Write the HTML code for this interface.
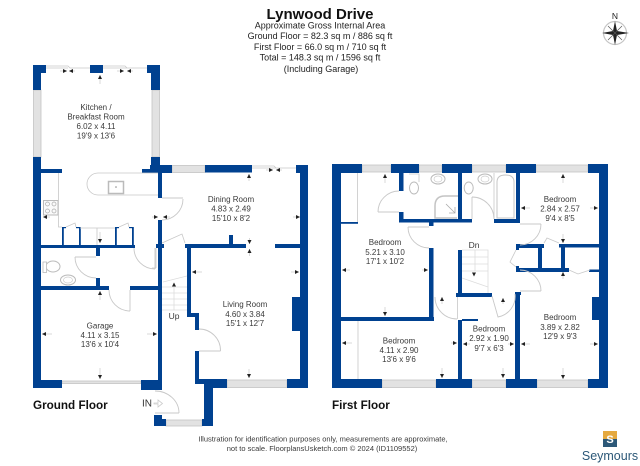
<!DOCTYPE html>
<html><head><meta charset="utf-8"><style>
html,body{margin:0;padding:0;background:#fff}
svg{display:block;filter:blur(.35px)}
text{font-family:"Liberation Sans",sans-serif;text-anchor:middle;fill:#3a3a3a}
.l{font-size:8px}
.h{font-size:9px;fill:#222}
.f{font-size:11.700px;font-weight:bold;fill:#111;text-anchor:start}
.w{fill:#004190}
.win{fill:#e2e2e2;stroke:#c4c4c4;stroke-width:.8}
.t{fill:none;stroke:#c8c8c8;stroke-width:.8}
.d{fill:none;stroke:#c8c8c8;stroke-width:.9}
.a{fill:none;stroke:#c8c8c8;stroke-width:.7;marker-end:url(#m)}
</style></head><body>
<svg width="640" height="466" viewBox="0 0 640 466" xmlns="http://www.w3.org/2000/svg">
<defs><marker id="m" markerUnits="userSpaceOnUse" markerWidth="5" markerHeight="4" refX="4" refY="2" orient="auto"><path d="M0 0L4 2L0 4Z" fill="#222"/></marker></defs>
<rect width="640" height="466" fill="#fff"/>

<!-- header -->
<text x="320" y="19" style="font-size:15px;font-weight:bold;fill:#111">Lynwood Drive</text>
<text x="320" y="28.500" class="h">Approximate Gross Internal Area</text>
<text x="320" y="39" class="h">Ground Floor = 82.3 sq m / 886 sq ft</text>
<text x="320" y="50" class="h">First Floor = 66.0 sq m / 710 sq ft</text>
<text x="320" y="60.500" class="h">Total = 148.3 sq m / 1596 sq ft</text>
<text x="321" y="72" class="h">(Including Garage)</text>

<!-- compass -->
<text x="615" y="19" style="font-size:8.500px;fill:#222">N</text>
<circle cx="615" cy="33" r="11.500" fill="none" stroke="#c4c4c4" stroke-width="1.200"/>
<path d="M615 21L617 31L629 33L617 35L615 45L613 35L602 33L613 31Z" fill="#222"/>
<path d="M608 26L615 33L622 26M608 40L615 33L622 40" stroke="#555" stroke-width=".7" fill="none"/>

<!-- windows ground -->
<rect class="win" x="33.500" y="90" width="7.500" height="67"/>
<rect class="win" x="152" y="90" width="7.500" height="67"/>
<rect class="win" x="172" y="165.500" width="33" height="7"/>
<rect class="win" x="227" y="380" width="60" height="7.500"/>
<rect class="win" x="166" y="420" width="36" height="6"/>
<path class="t" d="M46 66H68L70 68H90M103 66H125L127 68H147M46 68H68M103 68H127"/>
<path class="t" d="M252 166H274L276 168H296M252 168H296"/>
<rect class="win" x="62" y="381" width="79" height="2.500"/>

<!-- walls ground -->
<g class="w">
<rect x="33" y="65" width="13" height="8"/><rect x="33" y="65" width="8" height="25"/>
<rect x="90" y="65" width="13" height="8"/>
<rect x="147" y="65" width="13" height="8"/><rect x="151" y="65" width="9" height="25"/>
<rect x="33" y="157" width="8" height="231"/>
<rect x="41" y="169" width="21" height="4"/>
<rect x="151" y="157" width="9" height="14"/>
<rect x="142" y="169" width="30" height="4"/>
<rect x="150" y="165" width="22" height="8"/>
<rect x="205" y="165" width="47" height="7.500"/>
<rect x="296" y="165" width="12" height="8"/>
<rect x="300" y="165" width="8" height="223"/>
<rect x="158" y="173" width="4" height="25"/>
<rect x="158" y="220" width="4" height="170"/>
<rect x="41" y="245" width="94" height="3"/>
<rect x="156" y="244" width="8" height="4"/>
<rect x="96" y="248" width="4" height="8"/>
<rect x="96" y="278" width="4" height="8"/>
<rect x="41" y="286" width="68" height="4"/>
<rect x="130" y="286" width="28" height="4"/>
<rect x="33" y="380" width="29" height="8"/>
<rect x="141" y="380" width="21" height="10"/>
<rect x="185" y="244" width="61" height="4"/>
<rect x="275" y="244" width="25" height="4"/>
<rect x="229" y="235" width="4" height="9"/>
<rect x="187" y="244" width="4" height="73"/>
<rect x="187" y="313" width="12" height="4"/>
<rect x="195" y="313" width="4" height="17"/>
<rect x="195" y="351" width="4" height="32"/>
<rect x="195" y="379" width="32" height="5"/>
<rect x="204" y="379" width="23" height="9"/>
<rect x="204" y="379" width="9" height="47"/>
<rect x="202" y="419" width="11" height="7"/>
<rect x="154" y="415" width="8" height="11"/><rect x="154" y="419" width="12" height="7"/>
<rect x="287" y="379" width="21" height="9"/>
<rect x="292" y="297" width="8" height="34"/>
<rect x="62" y="227" width="1.800" height="18"/><rect x="62" y="227" width="4" height="1.200"/>
<rect x="79" y="227" width="1.800" height="18"/><rect x="76" y="227" width="4" height="1.200"/>
<rect x="115" y="227" width="1.800" height="18"/><rect x="115" y="227" width="4" height="1.200"/>
<rect x="132" y="227" width="1.800" height="18"/><rect x="129" y="227" width="4" height="1.200"/>
</g>

<!-- fittings ground -->
<path class="t" d="M158 173H98A11 11 0 0 0 98 195H158"/>
<rect x="108.500" y="181.500" width="15" height="12" fill="none" stroke="#bbb" stroke-width="1.500"/>
<circle cx="116" cy="187" r=".8" fill="#888"/>
<rect x="43.500" y="200.500" width="14.500" height="14.500" fill="#fafafa" stroke="#bbb"/>
<g fill="none" stroke="#aaa" stroke-width=".7"><circle cx="47.500" cy="204" r="2"/><circle cx="54" cy="204" r="2"/><circle cx="47.500" cy="211" r="2"/><circle cx="54" cy="211" r="2"/></g>
<path class="t" d="M58.500 173V227H62M80 228H115M97 228V245M66 227L75 223L76 227M119 227L128 223L129 227"/>
<ellipse cx="53" cy="266.500" rx="7" ry="5.500" fill="#fff" stroke="#bbb"/>
<rect x="43" y="262" width="3.500" height="10.500" fill="#fff" stroke="#bbb" stroke-width=".8"/>
<ellipse cx="68" cy="280" rx="7.500" ry="5" fill="#fff" stroke="#bbb"/><ellipse cx="68" cy="280" rx="4.500" ry="3" fill="none" stroke="#ccc" stroke-width=".7"/>
<path class="d" d="M75 257H96M75 257A21 21 0 0 0 96 278"/>
<path class="d" d="M130 290V311M130 311A21 21 0 0 1 109 290"/>
<path class="d" d="M155 248V269M134 248A21 21 0 0 0 155 269"/>
<path class="d" d="M162 198H183M183 199A21 21 0 0 1 162 220"/>
<path class="d" d="M199 351H220.500M199 329A21.500 21.500 0 0 1 220.500 351"/>
<path class="d" d="M155 413H179M155 391A24 22 0 0 1 179 413"/>
<path class="t" d="M162 243L182 234L185 243M156 248V268M152 268H156"/>
<path class="t" style="stroke:#ddd" d="M163 282L187 276M162 287H187M162 293H187M162 299H187M162 305H187M162 310H187M174 283V310"/>
<path d="M174 282.500l-2 4h4z" fill="#222"/>
<text x="174" y="319" style="font-size:8.500px">Up</text>
<text x="147" y="406.500" style="font-size:10px;fill:#333">IN</text>
<path d="M154 403h4v-3l4.500 3.500-4.500 3.500v-3h-4z" fill="#fff" stroke="#ccc" stroke-width=".8"/>

<!-- labels ground -->
<text class="l" x="96" y="110">Kitchen /</text><text class="l" x="96" y="119.500">Breakfast Room</text><text class="l" x="96" y="129">6.02 x 4.11</text><text class="l" x="96" y="138.500">19'9 x 13'6</text>
<text class="l" x="231" y="202">Dining Room</text><text class="l" x="231" y="211.500">4.83 x 2.49</text><text class="l" x="231" y="221">15'10 x 8'2</text>
<text class="l" x="100" y="328.500">Garage</text><text class="l" x="100" y="338">4.11 x 3.15</text><text class="l" x="100" y="347">13'6 x 10'4</text>
<text class="l" x="245" y="307">Living Room</text><text class="l" x="245" y="317">4.60 x 3.84</text><text class="l" x="245" y="326">15'1 x 12'7</text>
<text class="f" x="33" y="409">Ground Floor</text>
<text class="f" x="332" y="409">First Floor</text>

<!-- windows first -->
<rect class="win" x="362" y="165" width="29" height="7"/><rect class="win" x="419" y="165" width="23" height="7"/>
<rect class="win" x="472" y="165" width="34" height="7"/><rect class="win" x="536" y="165" width="52" height="7"/>
<rect class="win" x="382" y="380" width="54" height="7.500"/><rect class="win" x="472" y="380" width="34" height="7.500"/><rect class="win" x="537" y="380" width="51" height="7.500"/>

<!-- walls first -->
<g class="w">
<rect x="332" y="164" width="30" height="9"/><rect x="391" y="164" width="28" height="9"/><rect x="442" y="164" width="30" height="9"/>
<rect x="506" y="164" width="30" height="9"/><rect x="588" y="164" width="20" height="9"/>
<rect x="332" y="164" width="9" height="224"/><rect x="599" y="164" width="9" height="224"/>
<rect x="399" y="173" width="4.500" height="18"/><rect x="399" y="212" width="4.500" height="10"/>
<rect x="399" y="219" width="73" height="3.500"/><rect x="458" y="173" width="4" height="46"/><rect x="429" y="222" width="4.500" height="4"/>
<rect x="429" y="248" width="4.500" height="73"/><rect x="341" y="317" width="93" height="4"/>
<rect x="458" y="250" width="4" height="44"/><rect x="458" y="320" width="4" height="60"/>
<rect x="456" y="293" width="36" height="4"/><rect x="462" y="319" width="16" height="2"/>
<rect x="494" y="219" width="26" height="4"/><rect x="516" y="173" width="4" height="50"/>
<rect x="516" y="244" width="28" height="4"/><rect x="538" y="244" width="4" height="27"/>
<rect x="516" y="268" width="53" height="4"/><rect x="561" y="245" width="4" height="27"/>
<rect x="559" y="244" width="40" height="3.500"/><rect x="589" y="269.500" width="10" height="2.500"/>
<rect x="516" y="244" width="3" height="6"/><rect x="516" y="266" width="3" height="6"/>
<rect x="515" y="292" width="5" height="88"/><rect x="515" y="292" width="6" height="3"/>
<rect x="592" y="297" width="8" height="23"/>
<rect x="332" y="379" width="50" height="9"/><rect x="436" y="379" width="36" height="9"/>
<rect x="506" y="379" width="31" height="9"/><rect x="588" y="379" width="20" height="9"/>
<rect x="341" y="222" width="17" height="1.800"/>
</g>

<!-- fittings first -->
<path class="t" d="M357.500 173V222M358 321V379M457.500 297V319"/>
<path class="d" d="M378 212H399M399 191A21 21 0 0 0 378 212"/>
<path class="d" d="M408 227H429M408 227A21 21 0 0 0 429 248"/>
<path class="d" d="M472 197V219M472 197A22 22 0 0 1 494 219"/>
<path class="d" d="M520 224H541M541 224A21 21 0 0 1 520 245"/>
<path class="d" d="M520 291H541M520 270A21 21 0 0 1 541 291"/>
<path class="d" d="M435 297A22 22 0 0 0 457 319"/>
<path class="d" d="M515 294A21 21 0 0 1 498 317L492 296"/>
<path class="t" d="M544 243L547 238L559 243M516 250L510 262L516 267M569 270L578 274L590 270"/>
<path d="M457 218H435V206Q435 196 445 196H458" fill="none" stroke="#c4c4c4" stroke-width="1.500"/>
<path d="M446 204L455 213M455 207V213H449" fill="none" stroke="#aaa" stroke-width=".8"/>
<ellipse cx="414" cy="188" rx="4.500" ry="6" fill="#fff" stroke="#bbb"/><path class="t" d="M409 174H419V182"/>
<ellipse cx="438" cy="179" rx="7" ry="5" fill="#fff" stroke="#bbb"/><ellipse cx="438" cy="179" rx="4" ry="3" fill="none" stroke="#ccc" stroke-width=".7"/>
<ellipse cx="468.700" cy="188" rx="4.500" ry="6" fill="#fff" stroke="#bbb"/>
<ellipse cx="485" cy="179" rx="7" ry="5" fill="#fff" stroke="#bbb"/><ellipse cx="485" cy="179" rx="4" ry="3" fill="none" stroke="#ccc" stroke-width=".7"/>
<path d="M497 218V182Q497 175 505.500 175Q514 175 514 182V218Z" fill="#fff" stroke="#c4c4c4"/><path d="M494 173V219" class="t"/>
<path class="t" style="stroke:#ddd" d="M462 250H488V293M462 257H488M462 264H488M462 271H488M462 278L488 287M475 250V271"/>
<path d="M474 276.500l-2-4h4z" fill="#222"/>
<text x="474" y="248" style="font-size:8.500px">Dn</text>

<!-- labels first -->
<text class="l" x="385" y="245">Bedroom</text><text class="l" x="385" y="255">5.21 x 3.10</text><text class="l" x="385" y="264">17'1 x 10'2</text>
<text class="l" x="399" y="343.500">Bedroom</text><text class="l" x="399" y="353">4.11 x 2.90</text><text class="l" x="399" y="362">13'6 x 9'6</text>
<text class="l" x="489" y="331.500">Bedroom</text><text class="l" x="489" y="341">2.92 x 1.90</text><text class="l" x="489" y="351">9'7 x 6'3</text>
<text class="l" x="560" y="320">Bedroom</text><text class="l" x="560" y="330">3.89 x 2.82</text><text class="l" x="560" y="339">12'9 x 9'3</text>
<text class="l" x="560" y="202">Bedroom</text><text class="l" x="560" y="211.500">2.84 x 2.57</text><text class="l" x="560" y="221">9'4 x 8'5</text>

<!-- arrows -->
<g>
<path class="a" d="M60 71H67"/><path class="a" d="M75 71H69"/><path class="a" d="M117 71H124"/><path class="a" d="M133 71H127"/>
<path class="a" d="M100 84V75"/><path class="a" d="M50 217H43"/><path class="a" d="M152 217H158"/><path class="a" d="M170 217H163"/>
<path class="a" d="M100 232V243"/><path class="a" d="M249 181V174"/><path class="a" d="M266 170H273"/><path class="a" d="M282 170H276"/>
<path class="a" d="M293 217H300"/><path class="a" d="M249.500 238V244"/><path class="a" d="M249.500 256V249"/>
<path class="a" d="M202 272H192"/><path class="a" d="M291 272H299"/><path class="a" d="M249 369V378"/>
<path class="a" d="M52 334H42"/><path class="a" d="M147 334H157"/><path class="a" d="M100 300V291"/><path class="a" d="M100 368V379"/>
<path class="a" d="M385 183V174"/><path class="a" d="M350 270H342"/><path class="a" d="M422 270H428"/>
<path class="a" d="M385 307V316"/><path class="a" d="M352 343H342"/><path class="a" d="M451 343H457"/><path class="a" d="M442 368V378"/><path class="a" d="M442 304V297"/>
<path class="a" d="M470 344H463"/><path class="a" d="M503 368V378"/><path class="a" d="M503 304V298"/><path class="a" d="M508 344H514"/>
<path class="a" d="M530 344H521"/><path class="a" d="M590 344H598"/><path class="a" d="M563 279V272"/><path class="a" d="M563 368V379"/>
<path class="a" d="M563 183V174"/><path class="a" d="M530 208H521"/><path class="a" d="M590 208H598"/><path class="a" d="M563 234V243"/>
</g>

<!-- footer -->
<text x="323" y="441.500" style="font-size:7.500px">Illustration for identification purposes only, measurements are approximate,</text>
<text x="322" y="451" style="font-size:7.500px">not to scale. FloorplansUsketch.com © 2024 (ID1109552)</text>
<rect x="603" y="431" width="14" height="8" fill="#e5a93f"/>
<rect x="603" y="439" width="14" height="8" fill="#2c5878"/>
<text x="610" y="443" style="font-size:11px;font-weight:bold;fill:#fff">S</text>
<text x="610" y="460" style="font-size:12.500px;fill:#2c5878">Seymours</text>
</svg>
</body></html>
